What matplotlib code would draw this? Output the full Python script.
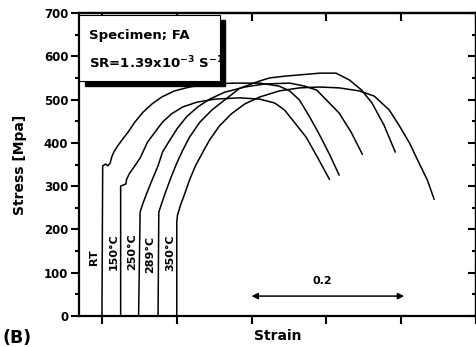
import matplotlib
matplotlib.use("Agg")
import matplotlib.pyplot as plt
from matplotlib.patches import Rectangle
from matplotlib.ticker import MultipleLocator, NullFormatter

# curves: strain, stress [MPa]
rt_strain = [0.000, 0.001, 0.005, 0.008, 0.011, 0.013, 0.016, 0.021, 0.027, 0.035, 0.044, 0.055,
             0.067, 0.080, 0.097, 0.117, 0.144, 0.177, 0.211, 0.237, 0.251, 0.264, 0.277, 0.291,
             0.304, 0.317]
rt_stress = [0, 347, 351, 347, 353, 367, 379, 393, 407, 425, 448, 471,
             490, 506, 520, 529, 536, 538, 538, 531, 520, 499, 462, 418,
             374, 326]

t150_strain = [0.025, 0.025, 0.029, 0.032, 0.033, 0.037, 0.044, 0.051, 0.061, 0.071, 0.081, 0.093,
               0.108, 0.127, 0.151, 0.184, 0.211, 0.231, 0.244, 0.257, 0.273, 0.288, 0.304]
t150_stress = [0, 300, 303, 305, 316, 330, 347, 365, 402, 425, 448, 467,
               483, 494, 501, 504, 501, 492, 476, 448, 413, 367, 316]

t250_strain = [0.049, 0.051, 0.055, 0.060, 0.067, 0.075, 0.081, 0.091, 0.101, 0.113, 0.128, 0.144,
               0.164, 0.191, 0.217, 0.251, 0.271, 0.287, 0.304, 0.317, 0.333, 0.348]
t250_stress = [0, 240, 261, 284, 314, 347, 379, 407, 434, 460, 483, 501,
               517, 529, 536, 538, 531, 522, 492, 469, 425, 374]

t289_strain = [0.075, 0.076, 0.080, 0.085, 0.092, 0.100, 0.108, 0.117, 0.131, 0.147, 0.164, 0.184,
               0.211, 0.224, 0.244, 0.264, 0.291, 0.313, 0.331, 0.347, 0.361, 0.377, 0.392]
t289_stress = [0, 240, 261, 286, 319, 353, 383, 413, 448, 476, 499, 526,
               543, 550, 554, 557, 561, 561, 545, 522, 492, 441, 379]

t350_strain = [0.100, 0.100, 0.101, 0.105, 0.111, 0.117, 0.125, 0.135, 0.144, 0.157, 0.173, 0.191,
               0.211, 0.237, 0.264, 0.291, 0.317, 0.344, 0.364, 0.384, 0.397, 0.411, 0.424, 0.435,
               0.444]
t350_stress = [0, 217, 233, 256, 284, 314, 347, 379, 407, 439, 467, 490,
               506, 520, 527, 529, 527, 520, 508, 476, 441, 400, 353, 314,
               270]

labels = ["RT", "150\u00b0C", "250\u00b0C", "289\u00b0C", "350\u00b0C"]
label_x = [-0.011, 0.016, 0.041, 0.065, 0.091]
label_y = [136, 148, 148, 143, 146]

fig = plt.figure(figsize=(4.77, 3.47), dpi=100)
ax = fig.add_axes([79.5 / 477, 31 / 347, 396.5 / 477, 303 / 347])

for xs, ys in [(rt_strain, rt_stress), (t150_strain, t150_stress), (t250_strain, t250_stress),
               (t289_strain, t289_stress), (t350_strain, t350_stress)]:
    ax.plot(xs, ys, color="black", lw=1.1)

for lab, lx, ly in zip(labels, label_x, label_y):
    ax.text(lx, ly, lab, rotation=90, ha="center", va="center",
            fontsize=8, fontweight="bold")

ax.set_xlim(-0.03, 0.5)
ax.set_ylim(0, 700)
ax.xaxis.set_major_locator(MultipleLocator(0.1))
ax.xaxis.set_major_formatter(NullFormatter())
ax.yaxis.set_major_locator(MultipleLocator(100))
ax.yaxis.set_minor_locator(MultipleLocator(50))

ax.tick_params(axis="both", which="both", width=1.5)
ax.tick_params(axis="x", which="major", direction="out", length=6, top=False)
ax.tick_params(axis="y", which="major", direction="out", length=6, right=False,
               labelsize=8.5, pad=2)
ax.tick_params(axis="y", which="minor", direction="out", length=3, right=False)
for lab in ax.get_yticklabels():
    lab.set_fontweight("bold")

# inward ticks on the top and right side
sec_x = ax.secondary_xaxis("top")
sec_x.xaxis.set_major_locator(MultipleLocator(0.1))
sec_x.xaxis.set_major_formatter(NullFormatter())
sec_x.tick_params(direction="in", length=6, width=1.5)
sec_y = ax.secondary_yaxis("right")
sec_y.yaxis.set_major_locator(MultipleLocator(100))
sec_y.yaxis.set_minor_locator(MultipleLocator(50))
sec_y.yaxis.set_major_formatter(NullFormatter())
sec_y.tick_params(which="major", direction="in", length=6, width=1.5)
sec_y.tick_params(which="minor", direction="in", length=3, width=1.5)
for s in ax.spines.values():
    s.set_linewidth(1.6)
sec_x.spines["top"].set_linewidth(1.6)
sec_y.spines["right"].set_linewidth(1.6)

ax.set_ylabel("Stress [Mpa]", fontsize=10, fontweight="bold", labelpad=12)
ax.set_xlabel("Strain", fontsize=10, fontweight="bold", labelpad=0)

# 0.2 strain scale arrow
ax.annotate("", xy=(0.2, 46), xytext=(0.404, 46),
            arrowprops=dict(arrowstyle="<|-|>", color="black", lw=1.1,
                            mutation_scale=9, shrinkA=0, shrinkB=0))
ax.text(0.295, 70, "0.2", ha="center", va="bottom", fontsize=8, fontweight="bold")

# info box with shadow
ax.add_patch(Rectangle((0.013, 0.759), 0.355, 0.218, transform=ax.transAxes,
                       facecolor="black", edgecolor="black", zorder=4))
ax.add_patch(Rectangle((0.0, 0.776), 0.355, 0.218, transform=ax.transAxes,
                       facecolor="white", edgecolor="black", lw=0.8, zorder=5))
ax.text(0.023, 0.927, "Specimen; FA", transform=ax.transAxes, ha="left", va="center",
        fontsize=9.5, fontweight="bold", zorder=6)
ax.text(0.023, 0.835, r"SR=1.39x10$^{\mathbf{-3}}$ S$^{\mathbf{-1}}$", transform=ax.transAxes,
        ha="left", va="center", fontsize=9.5, fontweight="bold", zorder=6)

fig.text(3 / 477, 1 - 329 / 347, "(B)", ha="left", va="top", fontsize=12.5, fontweight="bold")

fig.savefig("out.png", dpi=100)
